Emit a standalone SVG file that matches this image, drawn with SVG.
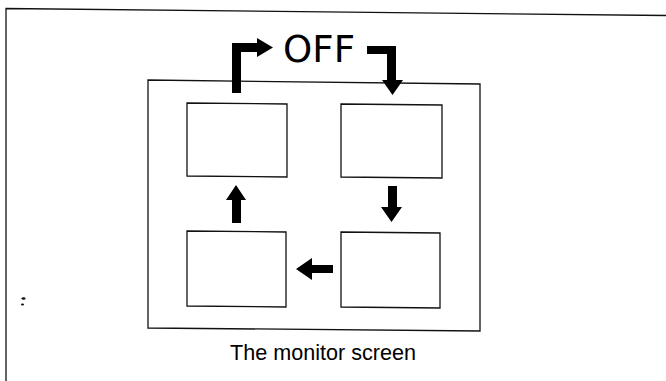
<svg xmlns="http://www.w3.org/2000/svg" width="666" height="381" viewBox="0 0 666 381">
<style>
.frame{fill:none;stroke:#111;stroke-width:1.3}
.box{fill:#fff;stroke:#111;stroke-width:1.3}
.arr{fill:#000;stroke:none}
.off{font-family:"DejaVu Sans",sans-serif;font-size:37px;fill:#000}
.cap{font-family:"Liberation Sans",Arial,sans-serif;font-size:21.5px;fill:#000}
</style>
<rect width="666" height="381" fill="#fff"/>
<g id="frame">
<polyline class="frame" points="6,381 6,8.5 666,15.5"/>
</g>
<g id="monitor">
<polygon class="frame" points="148,80 480,84 480,331 148,328"/>
</g>
<g id="screen-tl"><polygon class="box" points="187,103 287,104 287,177 187,176"/></g>
<g id="screen-tr"><polygon class="box" points="341,104 442,105 442,178 341,177"/></g>
<g id="screen-bl"><polygon class="box" points="187,231 286,232 286,307 187,306"/></g>
<g id="screen-br"><polygon class="box" points="341,232 440,233 440,308 341,307"/></g>
<g id="off-label"><text class="off" x="283" y="62" textLength="72" lengthAdjust="spacingAndGlyphs">OFF</text></g>
<g id="connectors">
<path class="arr" d="M232,93 L232,43 L257,43 L257,38 L273,47.5 L257,57 L257,52 L241,52 L241,93 Z"/>
<path class="arr" d="M367,46 L396,46 L396,80 L403,80 L392.5,95 L382,80 L387,80 L387,54 L367,54 Z"/>
<path class="arr" d="M388,186 L397,186 L397,207 L402,207 L391.5,222 L381,207 L388,207 Z"/>
<path class="arr" d="M232,223 L241,223 L241,200 L246,200 L236,185 L226,200 L232,200 Z"/>
<path class="arr" d="M333,265 L333,273 L312,273 L312,280 L296,269 L312,258 L312,265 Z"/>
</g>
<g id="mark">
<ellipse cx="23.5" cy="298.5" rx="2" ry="1.3" fill="#111"/>
<ellipse cx="22.5" cy="304.5" rx="1.6" ry="1.1" fill="#111"/>
</g>
<g id="caption"><text class="cap" x="230" y="360" textLength="186" lengthAdjust="spacingAndGlyphs">The monitor screen</text></g>
</svg>
